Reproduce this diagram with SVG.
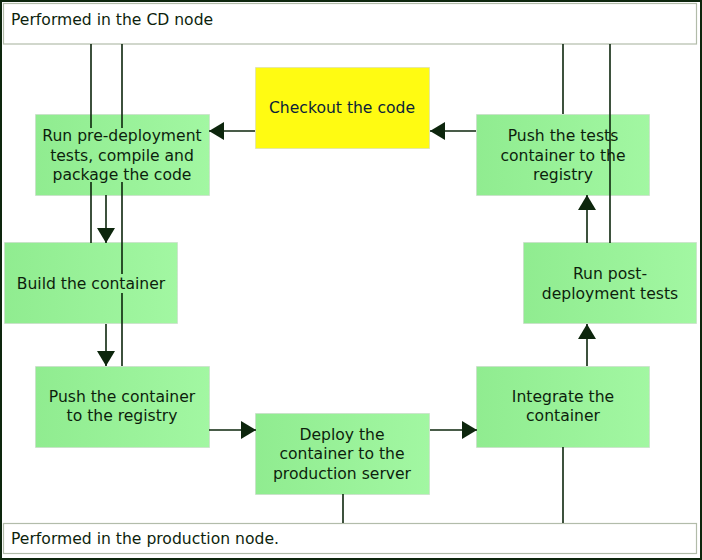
<svg xmlns="http://www.w3.org/2000/svg" width="702" height="560" viewBox="0 0 702 560">
<defs>
<linearGradient id="g" x1="0" y1="0" x2="1" y2="0">
<stop offset="0" stop-color="#90ec90"/>
<stop offset="1" stop-color="#a2f7a2"/>
</linearGradient>
<marker id="ah" markerWidth="15" markerHeight="18" refX="15" refY="9" orient="auto" markerUnits="userSpaceOnUse">
<path d="M0,0 L15,9 L0,18 Z" fill="#0d260d"/>
</marker>
<style>
.box{fill:url(#g);stroke:#c8d0c8;stroke-width:1;stroke-dasharray:1 1}
.lane{fill:#fff;stroke:#b2bcaa;stroke-width:1.2}
text{font-family:"DejaVu Sans",Verdana,sans-serif;font-size:15.6px;fill:#0d1f0d}
.c{text-anchor:middle}
.ln{stroke:#0d260d;stroke-width:1.6;fill:none}
.ar{stroke:#0d260d;stroke-width:1.6;fill:none;marker-end:url(#ah)}
</style>
</defs>
<rect x="0" y="0" width="702" height="560" fill="#fff"/>
<rect x="1" y="1" width="700" height="558" fill="none" stroke="#0d260d" stroke-width="2"/>

<g id="lane-cd">
<rect class="lane" x="3.5" y="3.5" width="693" height="40.5"/>
<text x="11" y="25">Performed in the CD node</text>
</g>
<g id="lane-prod">
<rect class="lane" x="3.5" y="523.5" width="693" height="30"/>
<text x="11" y="544">Performed in the production node.</text>
</g>

<g id="checkout">
<rect x="255.5" y="67.5" width="174" height="81" fill="#fffb12" stroke="#c8d0c8" stroke-dasharray="1 1"/>
<text class="c" x="342" y="113" style="fill:#0b1e3a">Checkout the code</text>
</g>
<g id="pre-deploy">
<rect class="box" x="35.5" y="114.5" width="174" height="81"/>
<text class="c" x="122" y="141">Run pre-deployment</text>
<text class="c" x="122" y="161">tests, compile and</text>
<text class="c" x="122" y="180">package the code</text>
</g>
<g id="build">
<rect class="box" x="4.5" y="242.5" width="173" height="81"/>
<text class="c" x="91" y="289">Build the container</text>
</g>
<g id="push-container">
<rect class="box" x="35.5" y="366.5" width="174" height="81"/>
<text class="c" x="122" y="402">Push the container</text>
<text class="c" x="122" y="421">to the registry</text>
</g>
<g id="deploy">
<rect class="box" x="255.5" y="413.5" width="174" height="81"/>
<text class="c" x="342" y="440">Deploy the</text>
<text class="c" x="342" y="459">container to the</text>
<text class="c" x="342" y="479">production server</text>
</g>
<g id="integrate">
<rect class="box" x="476.5" y="366.5" width="173" height="81"/>
<text class="c" x="563" y="402">Integrate the</text>
<text class="c" x="563" y="421">container</text>
</g>
<g id="post-deploy">
<rect class="box" x="523.5" y="242.5" width="173" height="81"/>
<text class="c" x="610" y="279">Run post-</text>
<text class="c" x="610" y="299">deployment tests</text>
</g>
<g id="push-tests">
<rect class="box" x="476.5" y="114.5" width="173" height="81"/>
<text class="c" x="563" y="141">Push the tests</text>
<text class="c" x="563" y="161">container to the</text>
<text class="c" x="563" y="180">registry</text>
</g>

<g id="connectors">
<path class="ln" d="M91,44 V128 M91,182 V243"/>
<path class="ln" d="M122,44 V128 M122,182 V274 M122,293 V366"/>
<path class="ln" d="M563,44 V114"/>
<path class="ln" d="M610,44 V243"/>
<path class="ln" d="M343,494 V523"/>
<path class="ln" d="M563,447 V523"/>
<path class="ar" d="M476,131 H430"/>
<path class="ar" d="M255,131 H209"/>
<path class="ar" d="M106,195 V243"/>
<path class="ar" d="M106,324 V366"/>
<path class="ar" d="M209,430 H256"/>
<path class="ar" d="M430,430 H477"/>
<path class="ar" d="M587,366 V324"/>
<path class="ar" d="M587,243 V195"/>
</g>
</svg>
